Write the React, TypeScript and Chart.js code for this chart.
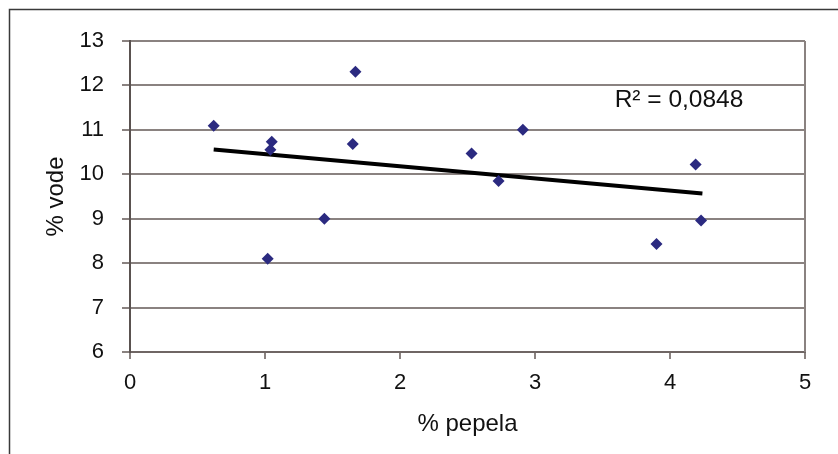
import React, { useEffect, useRef } from "react";
import { Chart, registerables } from "chart.js";

Chart.register(...registerables);

const ashPercent = [0.62, 1.02, 1.05, 1.04, 1.44, 1.65, 1.67, 2.53, 2.73, 2.91, 3.9, 4.19, 4.23];
const waterPercent = [11.09, 8.1, 10.73, 10.55, 9.0, 10.68, 12.31, 10.47, 9.85, 11.0, 8.43, 10.22, 8.96];
const trendX = [0.62, 4.24];
const trendY = [10.56, 9.57];
const xTicks = [0, 1, 2, 3, 4, 5];
const yTicks = [6, 7, 8, 9, 10, 11, 12, 13];
const rSquaredLabel = "R² = 0,0848";
const rLabelX = 3.59;
const rLabelY = 11.51;

const FONT = "'Liberation Sans', Arial, sans-serif";
const GRID = "#8a8280";

const framePlugin = {
  id: "frame",
  beforeDraw(chart: any) {
    const { ctx, width, height } = chart;
    ctx.save();
    ctx.fillStyle = "#ffffff";
    ctx.fillRect(0, 0, width, height);
    ctx.strokeStyle = "#3a3a3a";
    ctx.lineWidth = 1.5;
    ctx.beginPath();
    ctx.moveTo(9.5, height + 2);
    ctx.lineTo(9.5, 9.5);
    ctx.lineTo(width + 2, 9.5);
    ctx.stroke();
    ctx.restore();
  },
  afterDraw(chart: any) {
    const { ctx, chartArea, scales } = chart;
    ctx.save();
    ctx.strokeStyle = GRID;
    ctx.lineWidth = 2;
    ctx.beginPath();
    ctx.moveTo(chartArea.right, chartArea.top);
    ctx.lineTo(chartArea.right, chartArea.bottom);
    ctx.stroke();
    ctx.fillStyle = "#111111";
    ctx.font = `24.5px ${FONT}`;
    ctx.textAlign = "left";
    ctx.textBaseline = "alphabetic";
    ctx.fillText(rSquaredLabel, scales.x.getPixelForValue(rLabelX), scales.y.getPixelForValue(rLabelY));
    ctx.restore();
  },
};

export default function App() {
  const ref = useRef<HTMLCanvasElement | null>(null);
  useEffect(() => {
    if (!ref.current) return;
    const chart = new Chart(ref.current, {
      type: "scatter",
      data: {
        datasets: [
          {
            label: "data",
            data: ashPercent.map((x, i) => ({ x, y: waterPercent[i] })),
            pointStyle: "rectRot",
            pointRadius: 6,
            pointBorderWidth: 0,
            backgroundColor: "#2b2a80",
            borderColor: "#2b2a80",
            showLine: false,
          },
          {
            label: "trend",
            type: "line",
            data: trendX.map((x, i) => ({ x, y: trendY[i] })),
            borderColor: "#000000",
            borderWidth: 4,
            pointRadius: 0,
            fill: false,
          } as any,
        ],
      },
      options: {
        animation: false,
        responsive: false,
        layout: { padding: { left: 0, top: 41, right: 33, bottom: 0 } },
        plugins: { legend: { display: false }, tooltip: { enabled: false } },
        scales: {
          x: {
            type: "linear",
            min: 0,
            max: 5,
            afterBuildTicks: (s: any) => {
              s.ticks = xTicks.map((v) => ({ value: v }));
            },
            afterFit: (s: any) => {
              s.height = 102;
            },
            grid: { drawOnChartArea: false, drawTicks: true, tickLength: 7, color: GRID, lineWidth: 2 },
            border: { display: true, color: "#6f6664", width: 2 },
            ticks: { color: "#111111", font: { family: FONT, size: 22 }, padding: 11, maxRotation: 0 },
            title: {
              display: true,
              text: "% pepela",
              color: "#111111",
              font: { family: FONT, size: 24 },
              padding: { top: 0, bottom: 15 },
            },
          },
          y: {
            type: "linear",
            min: 6,
            max: 13,
            afterBuildTicks: (s: any) => {
              s.ticks = yTicks.map((v) => ({ value: v }));
            },
            afterFit: (s: any) => {
              s.width = 130;
            },
            grid: { drawTicks: true, tickLength: 8, color: GRID, lineWidth: 2 },
            border: { display: true, color: "#5a5250", width: 2 },
            ticks: { color: "#111111", font: { family: FONT, size: 22 }, padding: 18 },
            title: {
              display: true,
              text: "% vode",
              color: "#111111",
              font: { family: FONT, size: 24 },
              padding: { top: 42, bottom: 0 },
            },
          },
        },
      },
      plugins: [framePlugin],
    } as any);
    return () => chart.destroy();
  }, []);
  return (
    <div style={{ position: "fixed", left: 0, top: 0, width: 838, height: 454 }}>
      <canvas ref={ref} width={838} height={454} />
    </div>
  );
}
